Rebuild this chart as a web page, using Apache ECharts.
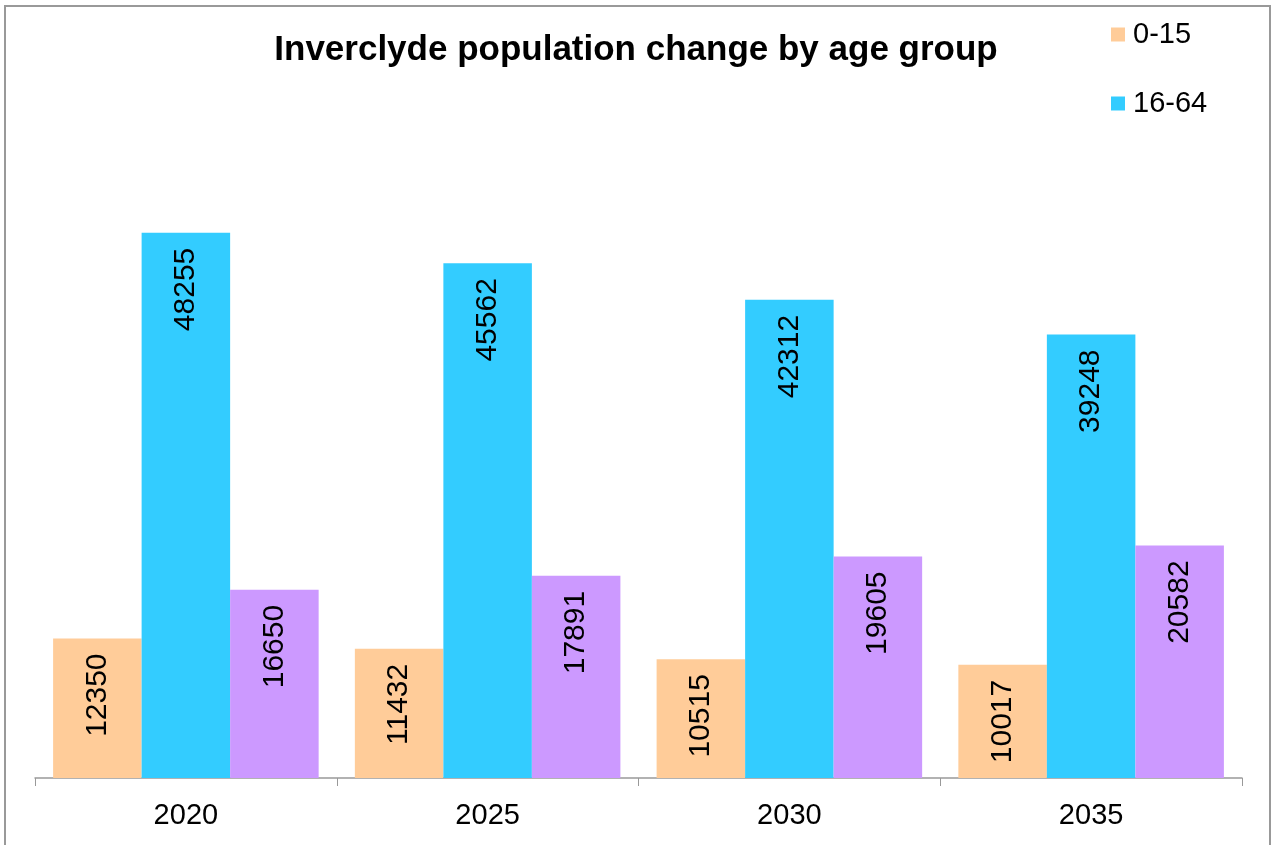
<!DOCTYPE html>
<html>
<head>
<meta charset="utf-8">
<script src="https://cdn.jsdelivr.net/npm/echarts@6/dist/echarts.min.js"></script>
<style>
html,body{margin:0;padding:0;background:#fff;}
#chart{width:1272px;height:845px;}
</style>
</head>
<body>
<div id="chart"></div>
<script>
const categories = ['2020', '2025', '2030', '2035'];
const age0to15 = [12350, 11432, 10515, 10017];
const age16to64 = [48255, 45562, 42312, 39248];
const age65plus = [16650, 17891, 19605, 20582];
const seriesNames = ['0-15', '16-64', '65+'];
const colors = ['#FFCC99', '#33CCFF', '#CC99FF'];

const chart = echarts.init(document.getElementById('chart'));
const font = '"Liberation Sans", Arial, sans-serif';
const labelCfg = {
  show: true,
  position: 'insideTop',
  rotate: 90,
  align: 'right',
  verticalAlign: 'middle',
  distance: 15,
  fontSize: 30,
  fontFamily: font,
  color: '#000'
};
function mk(name, data, color) {
  return {
    name: name, type: 'bar', data: data,
    barGap: '0%', barCategoryGap: '12%',
    itemStyle: { color: color },
    label: labelCfg,
    emphasis: { disabled: true }
  };
}
chart.setOption({
  animation: false,
  title: {
    text: 'Inverclyde population change by age group',
    left: 'center', top: 28,
    textStyle: { fontFamily: font, fontWeight: 'bold', fontSize: 35, color: '#000' }
  },
  legend: {
    data: [seriesNames[0], seriesNames[1]],
    orient: 'vertical', left: 1106, top: 15,
    itemWidth: 14, itemHeight: 14, itemGap: 40,
    icon: 'rect',
    textStyle: { fontFamily: font, fontSize: 29, color: '#000', padding: [0, 0, 0, 3] }
  },
  grid: { left: 35, right: 30, top: 100, bottom: 67, containLabel: false },
  xAxis: {
    type: 'category', data: categories,
    axisLine: { lineStyle: { color: '#999', width: 1.5 } },
    axisTick: { show: true, length: 8, lineStyle: { color: '#999' } },
    axisLabel: { fontFamily: font, fontSize: 29, color: '#000', margin: 23 }
  },
  yAxis: { type: 'value', min: 0, max: 60000, show: false, splitLine: { show: false } },
  graphic: [{
    type: 'rect', shape: { x: 5, y: 6, width: 1265, height: 900 },
    style: { fill: 'none', stroke: '#999', lineWidth: 2 }, silent: true
  }],
  series: [
    mk(seriesNames[0], age0to15, colors[0]),
    mk(seriesNames[1], age16to64, colors[1]),
    mk(seriesNames[2], age65plus, colors[2])
  ]
});
</script>
</body>
</html>
